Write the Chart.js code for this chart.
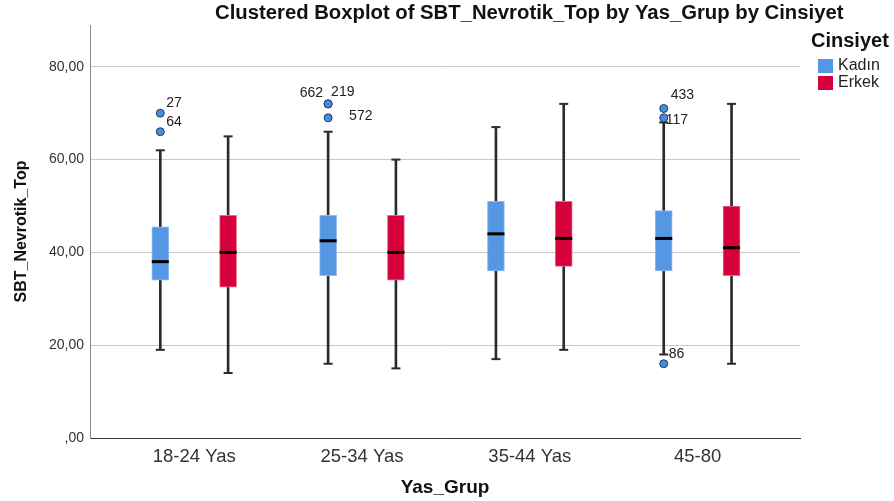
<!DOCTYPE html>
<html>
<head>
<meta charset="utf-8">
<script src="https://cdn.jsdelivr.net/npm/chart.js@4"></script>
<style>
  html, body { margin: 0; padding: 0; background: #fff; }
  #wrap { width: 894px; height: 501px; }
</style>
</head>
<body>
<div id="wrap"><canvas id="chart" width="894" height="501"></canvas></div>
<script>
// Yas_Grup categories
const categories = ["18-24 Yas", "25-34 Yas", "35-44 Yas", "45-80"];

// Kadın box statistics
const kadinMin = [19, 16, 17, 18];
const kadinQ1 = [34, 35, 36, 36];
const kadinMedian = [38, 42.5, 44, 43];
const kadinQ3 = [45.5, 48, 51, 49];
const kadinMax = [62, 66, 67, 68];

// Erkek box statistics
const erkekMin = [14, 15, 19, 16];
const erkekQ1 = [32.5, 34, 37, 35];
const erkekMedian = [40, 40, 43, 41];
const erkekQ3 = [48, 48, 51, 50];
const erkekMax = [65, 60, 72, 72];

// Kadın outliers (group index, value, case label)
const outlierGroup = [0, 0, 1, 1, 1, 3, 3, 3];
const outlierValues = [70, 66, 72, 72, 69, 71, 69, 16];
const outlierLabels = ["27", "64", "662", "219", "572", "433", "117", "86"];

const yTicks = [0, 20, 40, 60, 80];

// label placement next to each outlier point (px offset, align)
const labelPlacement = [
    [6, -10, "left"], [6, -10, "left"], [-5, -11, "right"], [3, -12, "left"],
    [21, -2, "left"], [7, -13, "left"], [2, 2, "left"], [5, -10, "left"]
];

const SHIFT = 0.202;
const BLUE = "#5597e3";
const RED = "#d6003a";
const WHISKER = "#2b2b2b";
const FONT = "'Liberation Sans', Arial, sans-serif";

const at = (arrA, arrB, dx) => categories.map((c, i) => ({ x: i + dx, y: [arrA[i], arrB[i]] }));
const pts = (arr, dx) => categories.map((c, i) => ({ x: i + dx, y: arr[i] }));

const boxK = at(kadinQ1, kadinQ3, -SHIFT);
const boxE = at(erkekQ1, erkekQ3, SHIFT);
const whiskersK = at(kadinMin, kadinQ1, -SHIFT).concat(at(kadinQ3, kadinMax, -SHIFT));
const whiskersE = at(erkekMin, erkekQ1, SHIFT).concat(at(erkekQ3, erkekMax, SHIFT));
const capsK = pts(kadinMin, -SHIFT).concat(pts(kadinMax, -SHIFT));
const capsE = pts(erkekMin, SHIFT).concat(pts(erkekMax, SHIFT));
const mediansK = pts(kadinMedian, -SHIFT);
const mediansE = pts(erkekMedian, SHIFT);
const outliers = outlierValues.map((v, i) => ({ x: outlierGroup[i] - SHIFT, y: v }));

const extras = {
    id: "extras",
    afterDatasetsDraw(chart) {
        const { ctx, scales } = chart;
        ctx.save();
        // case labels for outliers
        ctx.fillStyle = "#222";
        ctx.font = "14px " + FONT;
        ctx.textBaseline = "middle";
        outliers.forEach((p, i) => {
            const px = scales.x.getPixelForValue(p.x);
            const py = scales.y.getPixelForValue(p.y);
            const [dx, dy, align] = labelPlacement[i];
            ctx.textAlign = align;
            ctx.fillText(outlierLabels[i], px + dx, py + dy);
        });
        ctx.restore();
    },
    afterDraw(chart) {
        const { ctx } = chart;
        ctx.save();
        ctx.textBaseline = "middle";
        ctx.textAlign = "left";
        ctx.fillStyle = "#111";
        ctx.font = "bold 20.3px " + FONT;
        ctx.fillText("Clustered Boxplot of SBT_Nevrotik_Top by Yas_Grup by Cinsiyet", 215, 13);

        // legend
        ctx.font = "bold 20px " + FONT;
        ctx.fillText("Cinsiyet", 811, 41);
        ctx.fillStyle = BLUE;
        ctx.fillRect(818, 59, 15, 14);
        ctx.fillStyle = RED;
        ctx.fillRect(818, 76, 15, 14);
        ctx.fillStyle = "#222";
        ctx.font = "16px " + FONT;
        ctx.fillText("Kadın", 838, 66);
        ctx.fillText("Erkek", 838, 83);
        ctx.restore();
    }
};

new Chart(document.getElementById("chart"), {
    type: "scatter",
    data: {
        datasets: [
            { type: "scatter", label: "outliers", data: outliers, pointStyle: "circle", pointRadius: 4,
              backgroundColor: "#4a8bdc", borderColor: "#1e3d66", borderWidth: 1 },
            { type: "scatter", label: "medK", data: mediansK, pointStyle: "line", pointRadius: 8.5,
              borderColor: "#000", borderWidth: 3 },
            { type: "scatter", label: "medE", data: mediansE, pointStyle: "line", pointRadius: 8.5,
              borderColor: "#000", borderWidth: 3 },
            { type: "scatter", label: "capK", data: capsK, pointStyle: "line", pointRadius: 4.5,
              borderColor: WHISKER, borderWidth: 2 },
            { type: "scatter", label: "capE", data: capsE, pointStyle: "line", pointRadius: 4.5,
              borderColor: WHISKER, borderWidth: 2 },
            { type: "bar", label: "Kadın", data: boxK, backgroundColor: BLUE, borderColor: "#8dbaf0",
              borderWidth: 1, borderSkipped: false, barThickness: 17, grouped: false },
            { type: "bar", label: "Erkek", data: boxE, backgroundColor: RED, borderColor: "#ec6a85",
              borderWidth: 1, borderSkipped: false, barThickness: 17, grouped: false },
            { type: "bar", label: "whK", data: whiskersK, backgroundColor: WHISKER, barThickness: 2, grouped: false },
            { type: "bar", label: "whE", data: whiskersE, backgroundColor: WHISKER, barThickness: 2, grouped: false }
        ]
    },
    options: {
        responsive: false,
        animation: false,
        events: [],
        layout: { padding: { top: 25, right: 94, left: 0, bottom: 0 } },
        plugins: { legend: { display: false }, tooltip: { enabled: false }, title: { display: false } },
        scales: {
            x: {
                type: "linear",
                offset: false,
                min: -0.621,
                max: 3.61,
                afterBuildTicks: (scale) => { scale.ticks = categories.map((c, i) => ({ value: i })); },
                afterFit: (scale) => { scale.height = 63; },
                grid: { display: false, offset: false },
                border: { display: true, color: "#333", width: 1 },
                ticks: {
                    autoSkip: false, maxRotation: 0, padding: 0, color: "#333",
                    font: { family: FONT, size: 18.5 },
                    callback: (v) => categories[v]
                },
                title: {
                    display: true, text: "Yas_Grup", color: "#111",
                    font: { family: FONT, size: 19, weight: "bold" },
                    padding: { top: 0, bottom: 2 }
                }
            },
            y: {
                min: 0,
                max: 89,
                afterBuildTicks: (scale) => { scale.ticks = yTicks.map(v => ({ value: v })); },
                afterFit: (scale) => { scale.width = 90; },
                grid: { color: (c) => c.tick && c.tick.value === 0 ? "rgba(0,0,0,0)" : "#c8c8c8", drawTicks: false },
                border: { display: true, color: "#8a8a8a", width: 1 },
                ticks: {
                    padding: 6, color: "#333",
                    font: { family: FONT, size: 14 },
                    callback: (v) => v === 0 ? ",00" : v.toFixed(2).replace(".", ",")
                },
                title: {
                    display: true, text: "SBT_Nevrotik_Top", color: "#111",
                    font: { family: FONT, size: 16, weight: "bold" },
                    padding: { top: 12, bottom: 4 }
                }
            }
        }
    },
    plugins: [extras]
});
</script>
</body>
</html>
